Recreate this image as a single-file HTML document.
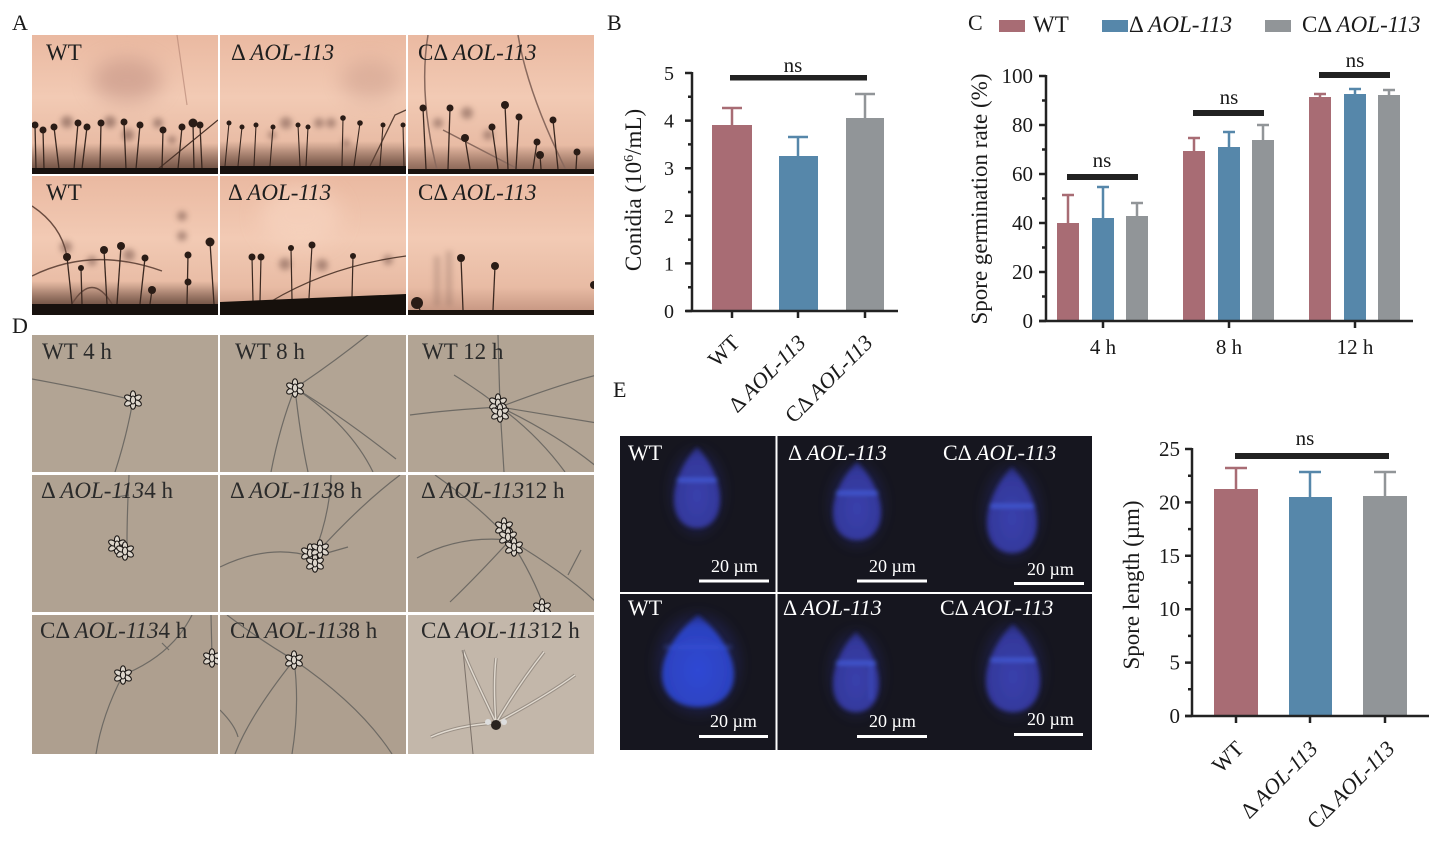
<!DOCTYPE html>
<html><head><meta charset="utf-8"><style>
html,body{margin:0;padding:0;background:#fff;}
svg{display:block;}
</style></head><body>
<svg width="1441" height="841" viewBox="0 0 1441 841" xmlns="http://www.w3.org/2000/svg" font-family="'Liberation Serif', serif">
<defs>
<linearGradient id="pk" x1="0" y1="0" x2="0" y2="1"><stop offset="0" stop-color="#eab9a1"/><stop offset="0.45" stop-color="#f2cab4"/><stop offset="0.8" stop-color="#e8bba4"/><stop offset="1" stop-color="#c2927e"/></linearGradient>
<linearGradient id="band" x1="0" y1="0" x2="0" y2="1"><stop offset="0" stop-color="#5a4034" stop-opacity="0"/><stop offset="1" stop-color="#5a4034" stop-opacity="0.75"/></linearGradient>
<filter id="bl3" x="-100%" y="-100%" width="300%" height="300%"><feGaussianBlur stdDeviation="3"/></filter>
<filter id="bl10" x="-100%" y="-100%" width="300%" height="300%"><feGaussianBlur stdDeviation="10"/></filter>
<filter id="bl2" x="-50%" y="-50%" width="200%" height="200%"><feGaussianBlur stdDeviation="2.2"/></filter>
<filter id="bl6" x="-50%" y="-50%" width="200%" height="200%"><feGaussianBlur stdDeviation="6"/></filter>
<radialGradient id="sp1" cx="0.5" cy="0.6" r="0.6"><stop offset="0" stop-color="#3a40ac"/><stop offset="0.8" stop-color="#33389a"/><stop offset="1" stop-color="#262a72"/></radialGradient>
<radialGradient id="sp2" cx="0.5" cy="0.6" r="0.6"><stop offset="0" stop-color="#2f48d4"/><stop offset="0.8" stop-color="#2c42bf"/><stop offset="1" stop-color="#222d88"/></radialGradient>
<g id="cl" fill="#ddd6cc" stroke="#1e1a18" stroke-width="1.1">
<ellipse cx="0" cy="-5" rx="2.6" ry="4.2"/>
<ellipse cx="4.5" cy="-2" rx="2.6" ry="4.2" transform="rotate(60 4.5 -2)"/>
<ellipse cx="4.5" cy="3" rx="2.6" ry="4.2" transform="rotate(120 4.5 3)"/>
<ellipse cx="0" cy="5" rx="2.6" ry="4.2"/>
<ellipse cx="-4.5" cy="3" rx="2.6" ry="4.2" transform="rotate(60 -4.5 3)"/>
<ellipse cx="-4.5" cy="-2" rx="2.6" ry="4.2" transform="rotate(120 -4.5 -2)"/>
<ellipse cx="0" cy="0" rx="2.6" ry="4"/>
</g>
</defs>

<g font-size="22" fill="#1a1a1a">
<text x="12" y="30">A</text>
<text x="607" y="30">B</text>
<text x="968" y="30">C</text>
<text x="12" y="333">D</text>
<text x="613" y="397">E</text>
</g>

<!-- ===== Panel A ===== -->
<svg x="32" y="35" width="186" height="139">
<rect width="186" height="139" fill="url(#pk)"/>
<ellipse cx="95" cy="45" rx="35" ry="22" fill="#b9877a" opacity="0.5" filter="url(#bl10)"/>
<rect y="108" width="186" height="25" fill="url(#band)"/>
<g fill="#6e4e44" opacity="0.55" filter="url(#bl3)"><circle cx="35" cy="87" r="6"/><circle cx="78" cy="87" r="6"/><circle cx="126" cy="88" r="5"/><circle cx="96" cy="100" r="6"/><circle cx="140" cy="105" r="4"/></g>
<path d="M145 0 L155 70" stroke="#b08070" stroke-width="1.2" opacity="0.6"/>
<path d="M120 139 L186 85" stroke="#4a3228" stroke-width="1.2"/>
<g stroke="#3a2820" stroke-width="1.3"><line x1="4" y1="134" x2="3" y2="90"/><line x1="12" y1="134" x2="11" y2="95"/><line x1="27" y1="134" x2="22" y2="92"/><line x1="42" y1="134" x2="46" y2="88"/><line x1="50" y1="134" x2="55" y2="92"/><line x1="68" y1="134" x2="69" y2="88"/><line x1="94" y1="134" x2="92" y2="87"/><line x1="104" y1="134" x2="108" y2="90"/><line x1="130" y1="134" x2="131" y2="95"/><line x1="146" y1="134" x2="150" y2="92"/><line x1="162" y1="134" x2="161" y2="88"/><line x1="170" y1="134" x2="168" y2="90"/></g>
<g fill="#2a1c16"><circle cx="3" cy="90" r="3.5"/><circle cx="11" cy="95" r="3.5"/><circle cx="22" cy="92" r="3.5"/><circle cx="46" cy="88" r="3.5"/><circle cx="55" cy="92" r="3.5"/><circle cx="69" cy="88" r="3.5"/><circle cx="92" cy="87" r="3.5"/><circle cx="108" cy="90" r="3.5"/><circle cx="131" cy="95" r="3.5"/><circle cx="150" cy="92" r="3.5"/><circle cx="161" cy="88" r="4.5"/><circle cx="168" cy="90" r="3.5"/></g>
<rect y="133" width="186" height="6" fill="#17110e"/>
</svg>
<svg x="220" y="35" width="186" height="139">
<rect width="186" height="139" fill="url(#pk)"/>
<ellipse cx="150" cy="45" rx="30" ry="20" fill="#c09080" opacity="0.4" filter="url(#bl10)"/>
<rect y="106" width="186" height="25" fill="url(#band)"/>
<g fill="#6e4e44" opacity="0.5" filter="url(#bl3)"><circle cx="66" cy="88" r="6"/><circle cx="99" cy="88" r="5"/><circle cx="111" cy="88" r="5"/><circle cx="126" cy="108" r="4"/><circle cx="52" cy="100" r="4"/></g>
<path d="M150 131 L175 80 L186 75" stroke="#5a4034" stroke-width="1.3" fill="none"/>
<g stroke="#3a2820" stroke-width="1.1"><line x1="5" y1="131" x2="9" y2="88"/><line x1="18" y1="131" x2="22" y2="92"/><line x1="34" y1="131" x2="36" y2="90"/><line x1="50" y1="131" x2="53" y2="92"/><line x1="80" y1="131" x2="78" y2="90"/><line x1="86" y1="131" x2="88" y2="92"/><line x1="122" y1="131" x2="123" y2="83"/><line x1="134" y1="131" x2="140" y2="88"/><line x1="160" y1="131" x2="163" y2="90"/><line x1="184" y1="131" x2="183" y2="90"/></g>
<g fill="#2a1c16"><circle cx="9" cy="88" r="2.5"/><circle cx="22" cy="92" r="2.5"/><circle cx="36" cy="90" r="2.5"/><circle cx="53" cy="92" r="2.5"/><circle cx="78" cy="90" r="2.5"/><circle cx="88" cy="92" r="2.5"/><circle cx="123" cy="83" r="2.8"/><circle cx="140" cy="88" r="2.8"/><circle cx="163" cy="90" r="2.5"/><circle cx="183" cy="90" r="2.5"/></g>
<rect y="131" width="186" height="8" fill="#17110e"/>
</svg>
<svg x="408" y="35" width="186" height="139">
<rect width="186" height="139" fill="url(#pk)"/>
<rect y="110" width="186" height="24" fill="url(#band)" opacity="0.7"/>
<g fill="#6e4e44" opacity="0.5" filter="url(#bl3)"><circle cx="59" cy="78" r="6"/><circle cx="30" cy="88" r="5"/><circle cx="80" cy="100" r="5"/></g>
<g stroke="#8a6a5e" stroke-width="1.5" fill="none"><path d="M20 0 Q10 60 30 139"/><path d="M110 0 Q120 60 160 139"/><path d="M35 95 L110 134"/></g>
<g stroke="#3a2820" stroke-width="1.3"><line x1="18" y1="134" x2="15" y2="73"/><line x1="40" y1="134" x2="42" y2="73"/><line x1="62" y1="134" x2="57" y2="103"/><line x1="90" y1="134" x2="84" y2="92"/><line x1="100" y1="134" x2="97" y2="70"/><line x1="108" y1="134" x2="111" y2="82"/><line x1="125" y1="134" x2="129" y2="107"/><line x1="133" y1="134" x2="132" y2="120"/><line x1="150" y1="134" x2="145" y2="85"/><line x1="168" y1="134" x2="169" y2="117"/></g>
<g fill="#2a1c16"><circle cx="15" cy="73" r="3.5"/><circle cx="42" cy="73" r="3.5"/><circle cx="57" cy="103" r="4"/><circle cx="84" cy="92" r="3.5"/><circle cx="97" cy="70" r="4"/><circle cx="111" cy="82" r="3.5"/><circle cx="129" cy="107" r="3.5"/><circle cx="132" cy="120" r="4"/><circle cx="145" cy="85" r="3.5"/><circle cx="169" cy="117" r="3.5"/></g>
<rect y="134" width="186" height="5" fill="#1c140f"/>
</svg>
<svg x="32" y="176" width="186" height="139">
<rect width="186" height="139" fill="url(#pk)"/>
<rect y="105" width="186" height="23" fill="url(#band)"/>
<g fill="#6e4e44" opacity="0.5" filter="url(#bl3)"><circle cx="34" cy="71" r="6"/><circle cx="97" cy="79" r="6"/><circle cx="60" cy="85" r="5"/><circle cx="150" cy="40" r="5"/><circle cx="150" cy="60" r="5"/></g>
<g stroke="#6a4c40" stroke-width="1.4" fill="none"><path d="M0 100 Q60 70 130 95"/><path d="M40 128 Q60 95 80 128"/><path d="M0 30 Q30 50 35 81"/></g>
<g stroke="#3a2820" stroke-width="1.3"><line x1="40" y1="128" x2="35" y2="81"/><line x1="50" y1="128" x2="49" y2="92"/><line x1="75" y1="128" x2="72" y2="74"/><line x1="85" y1="128" x2="89" y2="70"/><line x1="108" y1="128" x2="113" y2="82"/><line x1="118" y1="128" x2="120" y2="114"/><line x1="155" y1="128" x2="156" y2="79"/><line x1="182" y1="128" x2="178" y2="66"/></g>
<g fill="#2a1c16"><circle cx="35" cy="81" r="4"/><circle cx="49" cy="92" r="3"/><circle cx="72" cy="74" r="4"/><circle cx="89" cy="70" r="4"/><circle cx="113" cy="82" r="3.5"/><circle cx="120" cy="114" r="4"/><circle cx="156" cy="79" r="3.5"/><circle cx="156" cy="106" r="3.5"/><circle cx="178" cy="66" r="4.5"/></g>
<rect y="128" width="186" height="11" fill="#17110e"/>
</svg>
<svg x="220" y="176" width="186" height="139">
<rect width="186" height="139" fill="url(#pk)"/>
<ellipse cx="80" cy="40" rx="40" ry="30" fill="#f8d6c2" opacity="0.6" filter="url(#bl10)"/>
<g fill="#6e4e44" opacity="0.5" filter="url(#bl3)"><circle cx="65" cy="88" r="6"/><circle cx="102" cy="89" r="6"/><circle cx="168" cy="84" r="5"/></g>
<path d="M50 126 Q110 90 186 80" stroke="#5a4034" stroke-width="1.3" fill="none"/>
<g stroke="#3a2820" stroke-width="1.2"><line x1="33" y1="125" x2="32" y2="81"/><line x1="40" y1="125" x2="41" y2="81"/><line x1="72" y1="123" x2="71" y2="72"/><line x1="89" y1="122" x2="92" y2="69"/><line x1="132" y1="121" x2="133" y2="80"/></g>
<g fill="#2a1c16"><circle cx="32" cy="81" r="3.5"/><circle cx="41" cy="81" r="3.5"/><circle cx="71" cy="72" r="3"/><circle cx="92" cy="69" r="3.5"/><circle cx="133" cy="80" r="3"/></g>
<polygon points="0,126 186,118 186,139 0,139" fill="#16100c"/>
</svg>
<svg x="408" y="176" width="186" height="139">
<rect width="186" height="139" fill="url(#pk)"/>
<g fill="#8a6a5e" opacity="0.35" filter="url(#bl3)"><rect x="26" y="80" width="6" height="50"/><rect x="38" y="75" width="6" height="55"/></g>
<g stroke="#3a2820" stroke-width="1.3"><line x1="55" y1="134" x2="53" y2="82"/><line x1="85" y1="134" x2="87" y2="90"/><line x1="12" y1="134" x2="9" y2="127"/></g>
<g fill="#2a1c16"><circle cx="53" cy="82" r="4"/><circle cx="87" cy="90" r="4"/><circle cx="9" cy="127" r="6"/><circle cx="186" cy="109" r="4"/></g>
<rect y="134" width="186" height="5" fill="#1c140f"/>
</svg>
<g font-size="23" fill="#1e1e1e">
<text x="46" y="60">WT</text>
<text x="231" y="60">Δ <tspan font-style="italic">AOL-113</tspan></text>
<text x="418" y="60">CΔ <tspan font-style="italic">AOL-113</tspan></text>
<text x="46" y="200">WT</text>
<text x="228" y="200">Δ <tspan font-style="italic">AOL-113</tspan></text>
<text x="418" y="200">CΔ <tspan font-style="italic">AOL-113</tspan></text>
</g>

<!-- ===== Panel D ===== -->
<g>
<svg x="32" y="335" width="186" height="137"><rect width="186" height="137" fill="#b2a494"/>
<g stroke="#6e6a64" stroke-width="1.2" fill="none"><path d="M0 44 Q60 55 101 65"/><path d="M101 65 Q95 100 83 137"/></g>
<use href="#cl" x="101" y="65"/></svg>
<svg x="220" y="335" width="186" height="137"><rect width="186" height="137" fill="#b2a494"/>
<g stroke="#6e6a64" stroke-width="1.2" fill="none"><path d="M75 53 Q110 30 149 -1"/><path d="M75 53 Q60 90 51 137"/><path d="M75 53 Q80 100 88 137"/><path d="M75 53 Q130 90 153 137"/><path d="M75 53 Q120 80 176 124"/></g>
<use href="#cl" x="75" y="53"/></svg>
<svg x="408" y="335" width="186" height="137"><rect width="186" height="137" fill="#b2a494"/>
<g stroke="#6e6a64" stroke-width="1.2" fill="none"><path d="M92 72 L90 0"/><path d="M92 72 Q70 55 46 40"/><path d="M92 72 Q40 75 2 80"/><path d="M92 72 Q150 50 189 40"/><path d="M92 72 Q140 80 189 88"/><path d="M92 72 Q150 100 189 132"/><path d="M92 72 Q130 100 157 137"/><path d="M92 72 L96 137"/></g>
<use href="#cl" x="90" y="68"/><use href="#cl" x="92" y="78"/></svg>

<svg x="32" y="475" width="186" height="137"><rect width="186" height="137" fill="#b0a292"/>
<g stroke="#6e6a64" stroke-width="1.2" fill="none"><path d="M97 0 Q95 40 95 68"/><path d="M85 22 L97 20"/></g>
<use href="#cl" x="85" y="70"/><use href="#cl" x="93" y="76"/></svg>
<svg x="220" y="475" width="186" height="137"><rect width="186" height="137" fill="#b0a292"/>
<g stroke="#6e6a64" stroke-width="1.2" fill="none"><path d="M0 92 Q50 68 93 82"/><path d="M93 82 Q110 40 111 0"/><path d="M93 82 Q140 30 180 0"/><path d="M93 82 L128 72"/></g>
<use href="#cl" x="90" y="78"/><use href="#cl" x="95" y="88"/><use href="#cl" x="100" y="74"/></svg>
<svg x="408" y="475" width="186" height="137"><rect width="186" height="137" fill="#b0a292"/>
<g stroke="#6e6a64" stroke-width="1.2" fill="none"><path d="M9 83 Q50 60 102 65"/><path d="M102 65 Q70 100 42 127"/><path d="M102 65 Q125 100 138 137"/><path d="M102 65 Q160 100 189 128"/><path d="M173 75 L160 100"/><path d="M27 0 Q70 30 102 65"/></g>
<use href="#cl" x="96" y="52"/><use href="#cl" x="100" y="62"/><use href="#cl" x="106" y="72"/><use href="#cl" x="134" y="133"/></svg>

<svg x="32" y="615" width="186" height="139"><rect width="186" height="139" fill="#ae9f8f"/>
<g stroke="#6e6a64" stroke-width="1.2" fill="none"><path d="M91 60 Q140 40 160 0"/><path d="M91 60 Q70 100 64 139"/><path d="M180 43 L179 0"/><path d="M137 35 L130 28"/></g>
<use href="#cl" x="91" y="60"/><use href="#cl" x="180" y="43"/></svg>
<svg x="220" y="615" width="186" height="139"><rect width="186" height="139" fill="#ae9f8f"/>
<g stroke="#6e6a64" stroke-width="1.2" fill="none"><path d="M7 0 Q40 25 74 45"/><path d="M74 45 Q30 100 15 139"/><path d="M74 45 Q80 90 72 139"/><path d="M74 45 Q140 90 172 139"/><path d="M0 95 Q15 110 18 122"/></g>
<use href="#cl" x="74" y="45"/></svg>
<svg x="408" y="615" width="186" height="139"><rect width="186" height="139" fill="#c3b7aa"/>
<g stroke="#8a8078" stroke-width="3.5" fill="none" opacity="0.7"><path d="M88 108 C75 80 60 50 55 35"/><path d="M88 108 Q85 70 88 43"/><path d="M88 108 Q110 70 136 37"/><path d="M88 108 Q140 80 167 60"/><path d="M88 108 Q50 110 23 122"/></g>
<g stroke="#e2dbd1" stroke-width="1.4" fill="none"><path d="M88 108 C75 80 60 50 55 35"/><path d="M88 108 Q85 70 88 43"/><path d="M88 108 Q110 70 136 37"/><path d="M88 108 Q140 80 167 60"/><path d="M88 108 Q50 110 23 122"/></g>
<path d="M55 35 L65 139" stroke="#7a7068" stroke-width="1"/>
<circle cx="88" cy="110" r="5" fill="#2a2420"/><circle cx="80" cy="107" r="3" fill="#ddd"/><circle cx="96" cy="107" r="3" fill="#ddd"/></svg>
</g>
<g font-size="23" fill="#2a2a2a">
<text x="42" y="359">WT 4 h</text>
<text x="235" y="359">WT 8 h</text>
<text x="422" y="359">WT 12 h</text>
<text x="41" y="498">Δ <tspan font-style="italic">AOL-113</tspan>4 h</text>
<text x="230" y="498">Δ <tspan font-style="italic">AOL-113</tspan>8 h</text>
<text x="421" y="498">Δ <tspan font-style="italic">AOL-113</tspan>12 h</text>
<text x="40" y="638">CΔ <tspan font-style="italic">AOL-113</tspan>4 h</text>
<text x="230" y="638">CΔ <tspan font-style="italic">AOL-113</tspan>8 h</text>
<text x="421" y="638">CΔ <tspan font-style="italic">AOL-113</tspan>12 h</text>
</g>

<!-- ===== Panel B chart ===== -->
<g>
<rect x="712" y="125" width="40" height="186" fill="#a86c74"/>
<rect x="779" y="156" width="39" height="155" fill="#5687aa"/>
<rect x="846" y="118" width="38" height="193" fill="#919598"/>
<g stroke-width="2.5" fill="none">
<path d="M732 125 V108 M722 108 H742" stroke="#a86c74"/>
<path d="M798 156 V137 M788 137 H808" stroke="#5687aa"/>
<path d="M865 118 V94 M855 94 H875" stroke="#919598"/>
</g>
<g stroke="#222" stroke-width="2.5" fill="none">
<path d="M692 72 V312 M686 311 H898"/>
<path d="M685 311 H692 M685 263.4 H692 M685 215.8 H692 M685 168.2 H692 M685 120.6 H692 M685 73 H692"/>
<path d="M688 287.2 H692 M688 239.6 H692 M688 192 H692 M688 144.4 H692 M688 96.8 H692"/>
<path d="M732 311 V318 M798 311 V318 M865 311 V318"/>
</g>
<rect x="730" y="75" width="137" height="5.5" fill="#222"/>
<text x="793" y="72" font-size="21" text-anchor="middle" fill="#1a1a1a">ns</text>
<g font-size="20" text-anchor="end" fill="#1a1a1a">
<text x="674" y="318">0</text><text x="674" y="270.4">1</text><text x="674" y="222.8">2</text><text x="674" y="175.2">3</text><text x="674" y="127.6">4</text><text x="674" y="80">5</text>
</g>
<text transform="translate(641,190) rotate(-90)" font-size="23" text-anchor="middle" fill="#1a1a1a">Conidia (10<tspan font-size="14" dy="-8">6</tspan><tspan dy="8">/mL)</tspan></text>
<g font-size="22" text-anchor="end" fill="#1a1a1a">
<text transform="translate(741,344) rotate(-45)">WT</text>
<text transform="translate(807,344) rotate(-45)">Δ <tspan font-style="italic">AOL-113</tspan></text>
<text transform="translate(874,344) rotate(-45)">CΔ <tspan font-style="italic">AOL-113</tspan></text>
</g>
</g>

<!-- ===== Panel C chart ===== -->
<g>
<rect x="999" y="20" width="26" height="12" fill="#a86c74"/>
<rect x="1102" y="20" width="26" height="12" fill="#5687aa"/>
<rect x="1265" y="20" width="26" height="12" fill="#919598"/>
<g font-size="23" fill="#1a1a1a">
<text x="1033" y="32">WT</text>
<text x="1129" y="32">Δ <tspan font-style="italic">AOL-113</tspan></text>
<text x="1302" y="32">CΔ <tspan font-style="italic">AOL-113</tspan></text>
</g>
<g fill="#a86c74"><rect x="1057" y="223" width="22" height="98"/><rect x="1183" y="151" width="22" height="170"/><rect x="1309" y="97" width="22" height="224"/></g>
<g fill="#5687aa"><rect x="1092" y="218" width="22" height="103"/><rect x="1218" y="147" width="22" height="174"/><rect x="1344" y="94" width="22" height="227"/></g>
<g fill="#919598"><rect x="1126" y="216" width="22" height="105"/><rect x="1252" y="140" width="22" height="181"/><rect x="1378" y="95" width="22" height="226"/></g>
<g stroke-width="2.5" fill="none">
<path d="M1068 223 V195 M1062 195 H1074 M1194 151 V138 M1188 138 H1200 M1320 97 V94 M1314 94 H1326" stroke="#a86c74"/>
<path d="M1103 218 V187 M1097 187 H1109 M1229 147 V132 M1223 132 H1235 M1355 94 V89 M1349 89 H1361" stroke="#5687aa"/>
<path d="M1137 216 V203 M1131 203 H1143 M1263 140 V125 M1257 125 H1269 M1389 95 V90 M1383 90 H1395" stroke="#919598"/>
</g>
<g stroke="#222" stroke-width="2.5" fill="none">
<path d="M1046 75 V322 M1039 321 H1413"/>
<path d="M1039 321 H1046 M1039 272 H1046 M1039 223 H1046 M1039 174 H1046 M1039 125 H1046 M1039 76 H1046"/>
<path d="M1042 296.5 H1046 M1042 247.5 H1046 M1042 198.5 H1046 M1042 149.5 H1046 M1042 100.5 H1046"/>
<path d="M1103 321 V328 M1229 321 V328 M1355 321 V328"/>
</g>
<g fill="#222"><rect x="1067" y="174" width="71" height="6"/><rect x="1193" y="110" width="71" height="6"/><rect x="1319" y="72" width="71" height="6"/></g>
<g font-size="21" text-anchor="middle" fill="#1a1a1a">
<text x="1102" y="167">ns</text><text x="1229" y="104">ns</text><text x="1355" y="67">ns</text>
<text x="1103" y="354">4 h</text><text x="1229" y="354">8 h</text><text x="1355" y="354">12 h</text>
</g>
<g font-size="21" text-anchor="end" fill="#1a1a1a">
<text x="1033" y="328">0</text><text x="1033" y="279">20</text><text x="1033" y="230">40</text><text x="1033" y="181">60</text><text x="1033" y="132">80</text><text x="1033" y="83">100</text>
</g>
<text transform="translate(987,199) rotate(-90)" font-size="23" text-anchor="middle" fill="#1a1a1a">Spore germination rate (%)</text>
</g>

<!-- ===== Panel E images ===== -->
<g>
<rect x="620" y="436" width="472" height="314" fill="#16161f"/>
<g fill="#2a2f80" opacity="0.35" filter="url(#bl6)">
<ellipse cx="697" cy="492" rx="26" ry="42"/><ellipse cx="857" cy="505" rx="27" ry="41"/><ellipse cx="1012" cy="512" rx="28" ry="45"/>
<ellipse cx="698" cy="664" rx="42" ry="50"/><ellipse cx="856" cy="674" rx="26" ry="42"/><ellipse cx="1013" cy="670" rx="30" ry="46"/>
</g>
<g filter="url(#bl2)">
<path d="M697 447 C708.5 459.2 720 479.4 720 499.7 C720 518.3 709.7 528 697 528 C684.4 528 674 518.3 674 499.7 C674 479.4 685.5 459.2 697 447 Z" fill="url(#sp1)"/>
<path d="M857 462 C869 473.7 881 493.2 881 512.7 C881 530.6 870.2 540 857 540 C843.8 540 833 530.6 833 512.7 C833 493.2 845 473.7 857 462 Z" fill="url(#sp1)"/>
<path d="M1012 467 C1024.5 479.9 1037 501.4 1037 522.9 C1037 542.7 1025.75 553 1012 553 C998.25 553 987 542.7 987 522.9 C987 501.4 999.5 479.9 1012 467 Z" fill="url(#sp1)"/>
<path d="M698 615 C716 628.8 734 651.8 734 674.8 C734 696 717.8 707 698 707 C678.2 707 662 696 662 674.8 C662 651.8 680 628.8 698 615 Z" fill="url(#sp2)"/>
<path d="M856 632 C867.5 644 879 664 879 684 C879 702.4 868.65 712 856 712 C843.35 712 833 702.4 833 684 C833 664 844.5 644 856 632 Z" fill="url(#sp1)"/>
<path d="M1013 624 C1026.5 637.2 1040 659.2 1040 681.2 C1040 701.4 1027.85 712 1013 712 C998.15 712 986 701.4 986 681.2 C986 659.2 999.5 637.2 1013 624 Z" fill="url(#sp1)"/>
<g stroke="#4560e0" stroke-width="3.5" opacity="0.85">
<path d="M677 480 H717"/><path d="M836 493 H878"/><path d="M990 506 H1034"/><path d="M664 647 H732" opacity="0.4"/><path d="M836 663 H876"/><path d="M990 660 H1036"/>
</g>
<path d="M871 663 V700" stroke="#4560e0" stroke-width="2.5" opacity="0.5"/>
</g>
<path d="M776.5 436 V750 M620 593 H1092" stroke="#fff" stroke-width="2"/>
<g fill="#fff">
<rect x="699" y="579.5" width="70" height="3"/><rect x="857" y="579.5" width="70" height="3"/><rect x="1014" y="582" width="70" height="3"/>
<rect x="699" y="735" width="69" height="3"/><rect x="857" y="735" width="70" height="3"/><rect x="1014" y="733" width="69" height="3"/>
</g>
<g font-size="18" fill="#fff">
<text x="711" y="572">20 µm</text><text x="869" y="572">20 µm</text><text x="1027" y="575">20 µm</text>
<text x="710" y="727">20 µm</text><text x="869" y="727">20 µm</text><text x="1027" y="725">20 µm</text>
</g>
<g font-size="22" fill="#fff">
<text x="628" y="460">WT</text>
<text x="788" y="460">Δ <tspan font-style="italic">AOL-113</tspan></text>
<text x="943" y="460">CΔ <tspan font-style="italic">AOL-113</tspan></text>
<text x="628" y="615">WT</text>
<text x="783" y="615">Δ <tspan font-style="italic">AOL-113</tspan></text>
<text x="940" y="615">CΔ <tspan font-style="italic">AOL-113</tspan></text>
</g>
</g>

<!-- ===== Panel E chart ===== -->
<g>
<rect x="1214" y="489" width="44" height="227" fill="#a86c74"/>
<rect x="1289" y="497" width="43" height="219" fill="#5687aa"/>
<rect x="1363" y="496" width="44" height="220" fill="#919598"/>
<g stroke-width="2.5" fill="none">
<path d="M1236 489 V468 M1225 468 H1247" stroke="#a86c74"/>
<path d="M1310 497 V472 M1299 472 H1321" stroke="#5687aa"/>
<path d="M1385 496 V472 M1374 472 H1396" stroke="#919598"/>
</g>
<g stroke="#222" stroke-width="2.5" fill="none">
<path d="M1192 448 V717 M1185 716 H1429"/>
<path d="M1185 716 H1192 M1185 662.6 H1192 M1185 609.2 H1192 M1185 555.8 H1192 M1185 502.4 H1192 M1185 449 H1192"/>
<path d="M1188 689.3 H1192 M1188 635.9 H1192 M1188 582.5 H1192 M1188 529.1 H1192 M1188 475.7 H1192"/>
<path d="M1236 716 V723 M1310 716 V723 M1385 716 V723"/>
</g>
<rect x="1235" y="453" width="154" height="6" fill="#222"/>
<text x="1305" y="445" font-size="21" text-anchor="middle" fill="#1a1a1a">ns</text>
<g font-size="21" text-anchor="end" fill="#1a1a1a">
<text x="1180" y="723">0</text><text x="1180" y="669.6">5</text><text x="1180" y="616.2">10</text><text x="1180" y="562.8">15</text><text x="1180" y="509.4">20</text><text x="1180" y="456">25</text>
</g>
<text transform="translate(1139,585) rotate(-90)" font-size="23" text-anchor="middle" fill="#1a1a1a">Spore length (µm)</text>
<g font-size="22" text-anchor="end" fill="#1a1a1a">
<text transform="translate(1245,750) rotate(-45)">WT</text>
<text transform="translate(1319,750) rotate(-45)">Δ <tspan font-style="italic">AOL-113</tspan></text>
<text transform="translate(1396,750) rotate(-45)">CΔ <tspan font-style="italic">AOL-113</tspan></text>
</g>
</g>
</svg>
</body></html>
